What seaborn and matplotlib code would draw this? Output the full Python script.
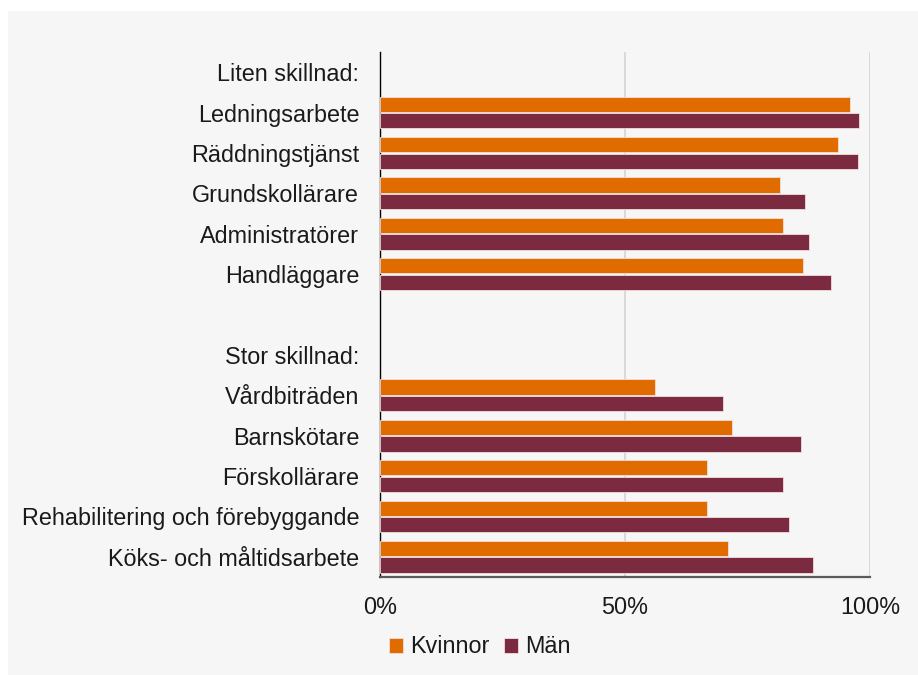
import pandas as pd
import numpy as np
import seaborn as sns
import matplotlib.pyplot as plt
from matplotlib.patches import Rectangle

# Data (share, %)
categories = ["Liten skillnad:", "Ledningsarbete", "Räddningstjänst", "Grundskollärare",
              "Administratörer", "Handläggare", "", "Stor skillnad:", "Vårdbiträden",
              "Barnskötare", "Förskollärare", "Rehabilitering och förebyggande",
              "Köks- och måltidsarbete"]
kvinnor = [np.nan, 95.9, 93.4, 81.7, 82.3, 86.4, np.nan, np.nan, 56.1, 71.8, 66.7, 66.7, 71.0]
man = [np.nan, 97.7, 97.5, 86.8, 87.5, 92.1, np.nan, np.nan, 70.0, 85.9, 82.3, 83.4, 88.3]
series = ["Kvinnor", "Män"]
colors = ["#E06C00", "#7B2A40"]
ticks = [0, 50, 100]
tick_labels = ["0%", "50%", "100%"]

df = pd.DataFrame({"Yrke": categories * 2,
                   "Andel": kvinnor + man,
                   "Kön": [series[0]] * len(categories) + [series[1]] * len(categories)})

sns.set_theme(style="white")
plt.rcParams['font.family'] = ['Liberation Sans', 'DejaVu Sans']
bg = "#F6F6F6"
fs = 16.8

fig = plt.figure(figsize=(9.18, 6.75), dpi=100, facecolor="white")
# grey panel with white strip at top and left
fig.patches.append(Rectangle((8 / 918, 0), 1, 1 - 11 / 675, transform=fig.transFigure,
                             facecolor=bg, edgecolor="none", zorder=-10))
ax = fig.add_axes([380 / 918, 1 - 577 / 675, 490 / 918, 525 / 675])
ax.set_facecolor(bg)

sns.barplot(data=df, x="Andel", y="Yrke", hue="Kön", order=categories, hue_order=series,
            palette=colors, saturation=1, orient="h", width=0.82, gap=0.08,
            edgecolor="#f2dede", linewidth=0.6, errorbar=None, ax=ax, zorder=3)

ax.set_xlim(0, 100)
ax.set_xticks(ticks)
ax.set_xticklabels(tick_labels)
ax.set_xlabel("")
ax.set_ylabel("")
ax.xaxis.grid(True, color="#d4d4d4", linewidth=1.2, zorder=0)
ax.set_axisbelow(True)
ax.tick_params(axis="y", length=0, pad=15, labelsize=fs, labelcolor="#1a1a1a")
ax.tick_params(axis="x", length=0, pad=14, labelsize=fs, labelcolor="#1a1a1a")

for s in ["top", "right"]:
    ax.spines[s].set_visible(False)
ax.spines["left"].set_color("black")
ax.spines["left"].set_linewidth(1.0)
ax.spines["bottom"].set_color("#5a5a5a")
ax.spines["bottom"].set_linewidth(1.6)

leg = ax.legend(loc="upper left", bbox_to_anchor=(380 / 918, 1 - 626 / 675),
                bbox_transform=fig.transFigure, ncol=2, frameon=False, fontsize=fs,
                handlelength=0.6, handleheight=0.6, handletextpad=0.3, columnspacing=0.6,
                borderaxespad=0)
for t in leg.get_texts():
    t.set_color("#1a1a1a")

fig.savefig("out.png", dpi=100, facecolor=fig.get_facecolor())
